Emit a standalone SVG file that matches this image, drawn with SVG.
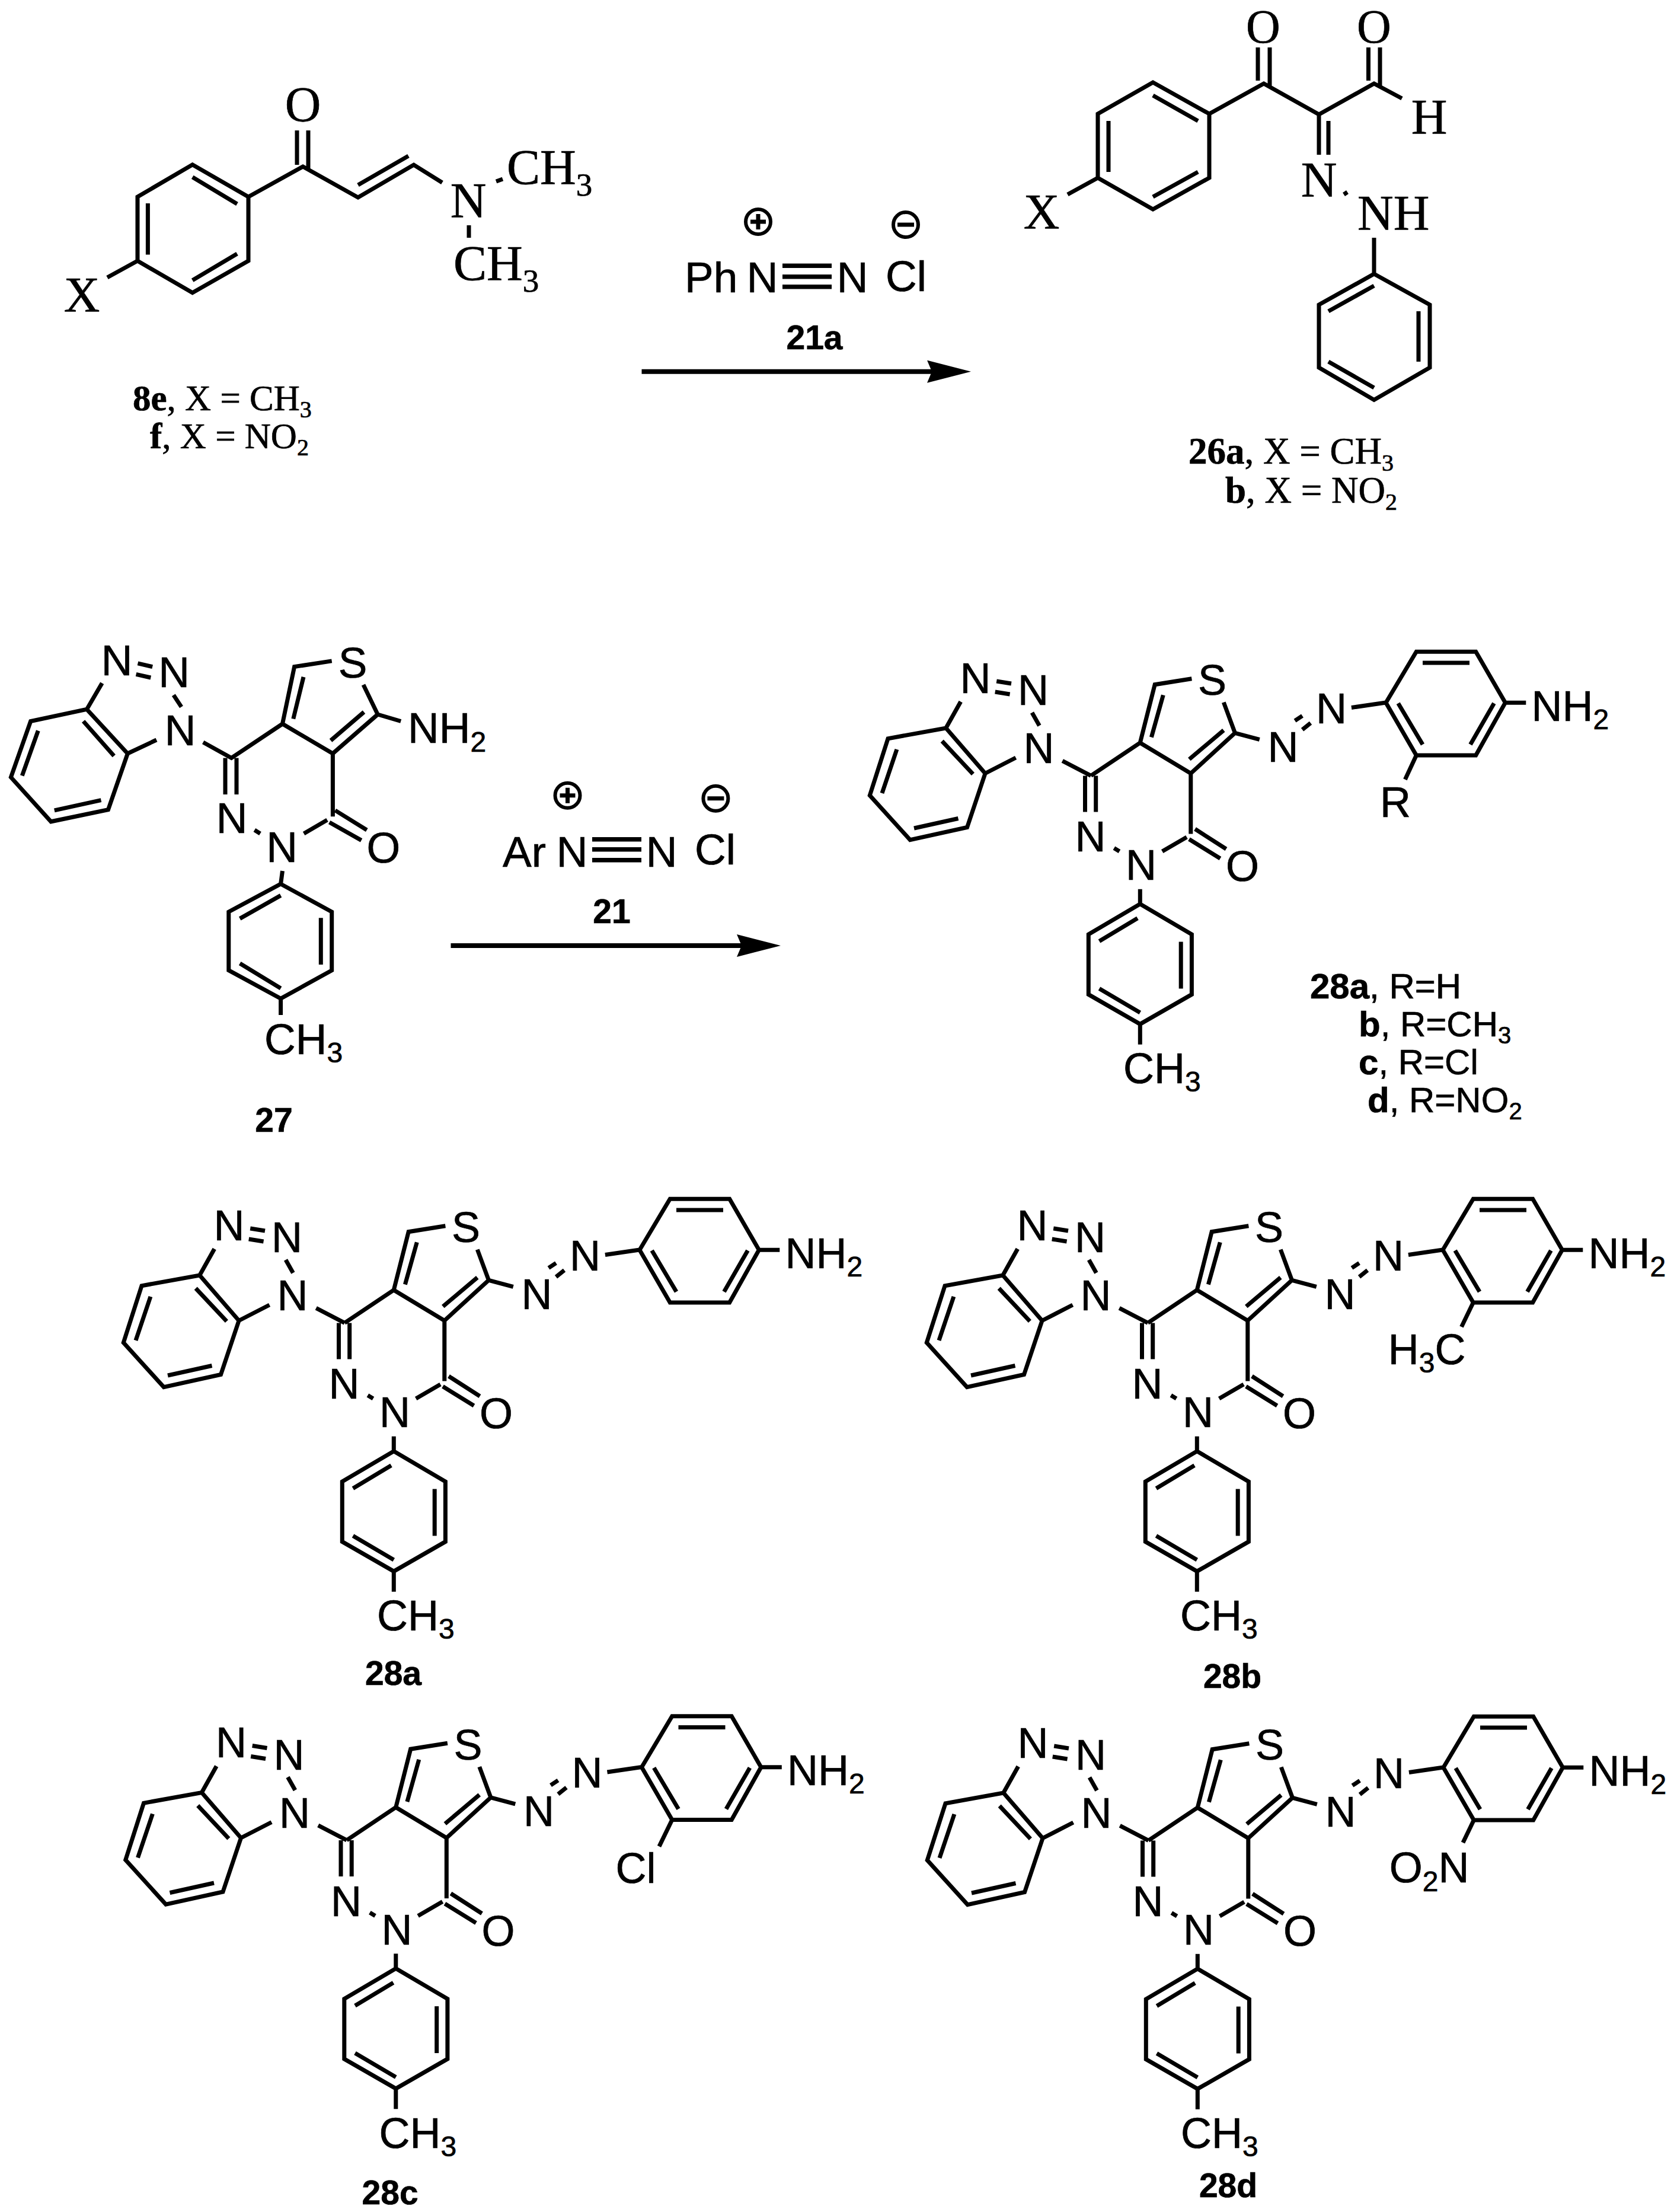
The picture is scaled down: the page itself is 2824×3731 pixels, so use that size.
<svg xmlns="http://www.w3.org/2000/svg" width="2824" height="3731" viewBox="0 0 2824 3731">
<style>
.b{fill:none;stroke:#000;stroke-width:7;stroke-linejoin:miter;stroke-linecap:butt}
.k{fill:none;stroke:#000;stroke-width:8}
text{fill:#000;stroke:#000;stroke-width:.7}
.a{font-family:"Liberation Sans",Arial,sans-serif;font-size:72px}
.a70{font-family:"Liberation Sans",Arial,sans-serif;font-size:73px}
.sa{font-size:48px}
.s{font-family:"Liberation Serif","Times New Roman",serif;font-size:84px}
.so{font-family:"Liberation Serif","Times New Roman",serif;font-size:80px}
.ss{font-size:55px}
.sl{font-family:"Liberation Serif","Times New Roman",serif;font-size:61px}
.sl2{font-family:"Liberation Serif","Times New Roman",serif;font-size:63px}
.sls{font-size:40px}
.al{font-family:"Liberation Sans",Arial,sans-serif;font-size:60px}
.als{font-size:40px}
.bd{font-weight:bold}
.m{text-anchor:middle}
.lab{font-family:"Liberation Sans",Arial,sans-serif;font-size:57px;font-weight:bold}
.tb{fill:#000;stroke:none}
.ch{fill:none;stroke:#000;stroke-width:6}
.chl{fill:none;stroke:#000;stroke-width:7}
</style>
<defs>
<marker id="head" markerUnits="userSpaceOnUse" markerWidth="74" markerHeight="38" viewBox="0 0 74 38" refX="8" refY="19" orient="auto"><path d="M0 0L74 19L0 38L8 19Z" fill="#000"/></marker>
<path id="core28" class="b" d="M336.8 2151L403 2227.5L372.5 2318.5L276.3 2339.6L208.3 2264.7L239 2168.7Z
M330.2 2173L382.4 2228.6M357.5 2303.5L283 2320M229 2260.8L253.9 2187
M336.8 2151L361.7 2106.5M422.2 2072L447 2076M419.7 2090L444.6 2094M482 2125L494.4 2147M403 2227.5L454.6 2201M533.3 2206.4L581.4 2231.4
M581.4 2231.4L664.3 2175.9L749.8 2227.5L749.8 2329.6M664.3 2175.9L689.2 2077.7L751.4 2067.7M683.4 2166.5L703.3 2095.4
M805.3 2107.6L824.4 2159.3L749.8 2227.5M747.3 2203.6L805.3 2154.8M824.4 2159.3L865.8 2170.4
M925.5 2138.7L938 2130.4M938 2153.7L952 2142.6M1020.9 2116.5L1077.3 2108.2
M1079 2108.2L1130.3 2022.2L1230.7 2022.2L1280.4 2108.2L1230.7 2197L1130.3 2197Z
M1141 2041L1220 2041M1261.4 2109.3L1221.5 2178.7M1099.7 2109.3L1141 2178.7M1280.4 2108.2L1315.3 2108.2
M757 2321.3L809.5 2355M747 2338.5L799.5 2371M743 2335L701.7 2359M620.4 2353.5L629.5 2359M571.5 2231.4L571.5 2292.4M589.7 2231.4L589.7 2292.4
M664.3 2422.8L664.3 2447.8
M664.3 2447.8L751.4 2498.9L751.4 2600.4L664.3 2650.4L577.3 2600.4L577.3 2498.9Z
M660 2471.7L595.5 2510.5M733.2 2511.6L733.2 2590.5M595.5 2590.4L664.3 2631M664.3 2650.4L664.3 2684.8"/>
</defs>

<g id="mol-8e">
<path class="b" d="M324.7 277.7L419 332L419 440L324.7 493.8L232 440L232 332ZM324.7 298.7L400 344M249.4 343L249.4 429.5M324.7 472.8L400 428M232 440L181 468M419 332L511 281L604 333L698 278L746 308M604 312L689 263M501 220L501 278M520 220L520 285M837 306L848 302M791 380L791 401"/>
<text class="s m" x="138" y="526">X</text>
<text class="s m" x="511" y="205">O</text>
<text class="s m" x="790" y="366.5">N</text>
<text class="s" x="855" y="311">CH<tspan class="ss" dy="19">3</tspan></text>
<text class="s" x="765" y="473">CH<tspan class="ss" dy="19">3</tspan></text>
<text class="sl" x="224" y="692"><tspan class="bd">8e</tspan>, X = CH<tspan class="sls" dy="12">3</tspan></text>
<text class="sl" x="253" y="756"><tspan class="bd">f</tspan>, X = NO<tspan class="sls" dy="12">2</tspan></text>
</g>

<g id="mol-26">
<path class="b" d="M1945 139L2040 192L2040 300L1945 353L1852 300L1852 192ZM1945 161L2021 204M1870 204L1870 290M1945 332L2021 290M1852 300L1801 328M2040 192L2132 141L2225 193L2318 141L2365 166M2122 80L2122 136M2142 80L2142 146M2308.5 80L2308.5 136M2328 80L2328 146M2225 193L2225 261M2241 204L2241 261M2267 328L2273 324M2318 401L2318 462M2318 462L2412 514L2412 620L2318 674.5L2225 620L2225 514ZM2318 482L2241 525M2393 525L2393 610M2241 610L2318 654"/>
<text class="s m" x="1757" y="386">X</text>
<text class="so m" x="2131" y="72">O</text>
<text class="so m" x="2318" y="72">O</text>
<text class="s m" x="2411" y="225.6">H</text>
<text class="s m" x="2225" y="332">N</text>
<text class="s" x="2290" y="387.5">NH</text>
<text class="sl2" x="2005" y="782"><tspan class="bd">26a</tspan>, X = CH<tspan class="sls" dy="12">3</tspan></text>
<text class="sl2" x="2067" y="848"><tspan class="bd">b</tspan>, X = NO<tspan class="sls" dy="12">2</tspan></text>
</g>

<g id="reagent-21a">
<text class="a70" x="1155" y="493">Ph</text>
<text class="a70 m" x="1286" y="493">N</text>
<rect class="tb" x="1320" y="444.5" width="83" height="7.5"/><rect class="tb" x="1320" y="463" width="83" height="7.5"/><rect class="tb" x="1320" y="480" width="83" height="7.5"/>
<text class="a70 m" x="1438" y="493">N</text>
<text class="a70" x="1494" y="491">Cl</text>
<circle class="ch" cx="1279" cy="374" r="21"/><path class="chl" d="M1266 374H1292M1279 361V387"/>
<circle class="ch" cx="1528" cy="379" r="21"/><path class="chl" d="M1514 379H1542"/>
<text class="lab m" x="1374" y="589">21a</text>
</g>

<g id="reagent-21">
<text class="a70" x="848" y="1461.7">Ar</text>
<text class="a70 m" x="965" y="1461.7">N</text>
<rect class="tb" x="999" y="1412" width="83" height="7.5"/><rect class="tb" x="999" y="1429" width="83" height="7.5"/><rect class="tb" x="999" y="1447" width="83" height="7.5"/>
<text class="a70 m" x="1116" y="1461.7">N</text>
<text class="a70" x="1172" y="1457.7">Cl</text>
<circle class="ch" cx="957.5" cy="1341.7" r="21"/><path class="chl" d="M944.5 1341.7H970.5M957.5 1328.7V1354.7"/>
<circle class="ch" cx="1207.4" cy="1346.7" r="21"/><path class="chl" d="M1193.4 1346.7H1221.4"/>
<text class="lab m" x="1032" y="1556.7">21</text>
</g>

<g id="connectors">
<path class="k" d="M1082.5 626.7H1572" marker-end="url(#head)"/>
<path class="k" d="M760.5 1595H1251" marker-end="url(#head)"/>
</g>

<g id="mol-27">
<path class="b" d="M146.4 1196.4L215.3 1271L182.5 1365.7L86 1385.8L18.4 1311L51.7 1216.5ZM140.6 1216.5L192.3 1275M170.5 1349.7L91.8 1366.9M37.3 1308.3L64.3 1232.5M146.4 1196.4L172.2 1152.2M232.5 1118.9L257.2 1124.6M229.6 1137.3L254.3 1143M292.8 1172.3L306 1192.4M215.3 1271L264 1248M342.7 1252L390.4 1278.5L476.5 1221L561.4 1271L561.4 1377.2M476.5 1221L496.6 1124.6L559.7 1114.9M494.8 1212.5L512 1141.8M613 1155L637.2 1205L561.4 1271M558 1249L614 1201M637.2 1205L676.2 1216.5M565.4 1366.9L618.8 1400M555.7 1387L609.6 1417.4M552 1383L512.6 1406M429.4 1400L439 1406M380 1278.5L380 1340M399 1278.5L399 1340M476.5 1469L473.6 1491M473.6 1491L559.7 1538L559.7 1636.7L473.6 1684.3L385.8 1636.7L385.8 1538ZM473.6 1510.4L404.7 1549.4M541.3 1548.3L541.3 1627M404.7 1625L473.6 1667M473.6 1684L473.6 1712"/>
<text class="a70 m" x="197" y="1139">N</text>
<text class="a70 m" x="293.6" y="1159">N</text>
<text class="a70 m" x="304" y="1256.7">N</text>
<text class="a70 m" x="595" y="1143">S</text>
<text class="a70" x="688" y="1252.6">NH<tspan class="sa" dy="15">2</tspan></text>
<text class="a70 m" x="647" y="1454.7">O</text>
<text class="a70 m" x="475.6" y="1453.6">N</text>
<text class="a70 m" x="391" y="1404.8">N</text>
<text class="a70" x="446" y="1778">CH<tspan class="sa" dy="14">3</tspan></text>
<text class="lab m" x="462" y="1909">27</text>
</g>

<g id="mol-28-R" transform="translate(1259 -923)">
<use href="#core28"/>
<path class="b" d="M1130.3 2197L1111.4 2237.7"/>
<text class="a m" x="386.5" y="2091.6">N</text><text class="a m" x="484" y="2112">N</text><text class="a m" x="493.5" y="2210.3">N</text><text class="a m" x="786" y="2095.4">S</text><text class="a m" x="905.6" y="2207.5">N</text><text class="a m" x="987" y="2142.6">N</text><text class="a" x="1324.4" y="2138.7">NH<tspan class="sa" dy="14">2</tspan></text><text class="a m" x="837" y="2409">O</text><text class="a m" x="666" y="2407.3">N</text><text class="a m" x="580.6" y="2359">N</text><text class="a" x="636" y="2750">CH<tspan class="sa" dy="14">3</tspan></text>
<text class="a m" x="1095" y="2301">R</text>
</g>
<g id="legend-28">
<text class="al" x="2210" y="1684.4"><tspan class="bd">28a</tspan>, R=H</text>
<text class="al" x="2292" y="1748"><tspan class="bd">b</tspan>, R=CH<tspan class="als" dy="12">3</tspan></text>
<text class="al" x="2292" y="1812"><tspan class="bd">c</tspan>, R=Cl</text>
<text class="al" x="2307" y="1875.7"><tspan class="bd">d</tspan>, R=NO<tspan class="als" dy="12">2</tspan></text>
</g>

<g id="mol-28a">
<use href="#core28"/>
<text class="a m" x="386.5" y="2091.6">N</text><text class="a m" x="484" y="2112">N</text><text class="a m" x="493.5" y="2210.3">N</text><text class="a m" x="786" y="2095.4">S</text><text class="a m" x="905.6" y="2207.5">N</text><text class="a m" x="987" y="2142.6">N</text><text class="a" x="1324.4" y="2138.7">NH<tspan class="sa" dy="14">2</tspan></text><text class="a m" x="837" y="2409">O</text><text class="a m" x="666" y="2407.3">N</text><text class="a m" x="580.6" y="2359">N</text><text class="a" x="636" y="2750">CH<tspan class="sa" dy="14">3</tspan></text>
<text class="lab m" x="663.5" y="2841.8">28a</text>
</g>

<g id="mol-28b" transform="translate(1355 0)">
<use href="#core28"/>
<path class="b" d="M1130.3 2197L1110.5 2238"/>
<text class="a m" x="386.5" y="2091.6">N</text><text class="a m" x="484" y="2112">N</text><text class="a m" x="493.5" y="2210.3">N</text><text class="a m" x="786" y="2095.4">S</text><text class="a m" x="905.6" y="2207.5">N</text><text class="a m" x="987" y="2142.6">N</text><text class="a" x="1324.4" y="2138.7">NH<tspan class="sa" dy="14">2</tspan></text><text class="a m" x="837" y="2409">O</text><text class="a m" x="666" y="2407.3">N</text><text class="a m" x="580.6" y="2359">N</text><text class="a" x="636" y="2750">CH<tspan class="sa" dy="14">3</tspan></text>
<text class="a" x="986.7" y="2300.8">H<tspan class="sa" dy="14">3</tspan><tspan dy="-14">C</tspan></text>
<text class="lab m" x="724" y="2847.4">28b</text>
</g>

<g id="mol-28c" transform="translate(3.5 872.5)">
<use href="#core28"/>
<path class="b" d="M1130.3 2197L1108.5 2241.9"/>
<text class="a m" x="386.5" y="2091.6">N</text><text class="a m" x="484" y="2112">N</text><text class="a m" x="493.5" y="2210.3">N</text><text class="a m" x="786" y="2095.4">S</text><text class="a m" x="905.6" y="2207.5">N</text><text class="a m" x="987" y="2142.6">N</text><text class="a" x="1324.4" y="2138.7">NH<tspan class="sa" dy="14">2</tspan></text><text class="a m" x="837" y="2409">O</text><text class="a m" x="666" y="2407.3">N</text><text class="a m" x="580.6" y="2359">N</text><text class="a" x="636" y="2750">CH<tspan class="sa" dy="14">3</tspan></text>
<text class="a" x="1035" y="2303">Cl</text>
<text class="lab m" x="654.6" y="2845.5">28c</text>
</g>

<g id="mol-28d" transform="translate(1356 873)">
<use href="#core28"/>
<path class="b" d="M1130.3 2197L1112 2235"/>
<text class="a m" x="386.5" y="2091.6">N</text><text class="a m" x="484" y="2112">N</text><text class="a m" x="493.5" y="2210.3">N</text><text class="a m" x="786" y="2095.4">S</text><text class="a m" x="905.6" y="2207.5">N</text><text class="a m" x="987" y="2142.6">N</text><text class="a" x="1324.4" y="2138.7">NH<tspan class="sa" dy="14">2</tspan></text><text class="a m" x="837" y="2409">O</text><text class="a m" x="666" y="2407.3">N</text><text class="a m" x="580.6" y="2359">N</text><text class="a" x="636" y="2750">CH<tspan class="sa" dy="14">3</tspan></text>
<text class="a" x="987.7" y="2301.6">O<tspan class="sa" dy="15">2</tspan><tspan dy="-15">N</tspan></text>
<text class="lab m" x="716" y="2832.8">28d</text>
</g>
</svg>
